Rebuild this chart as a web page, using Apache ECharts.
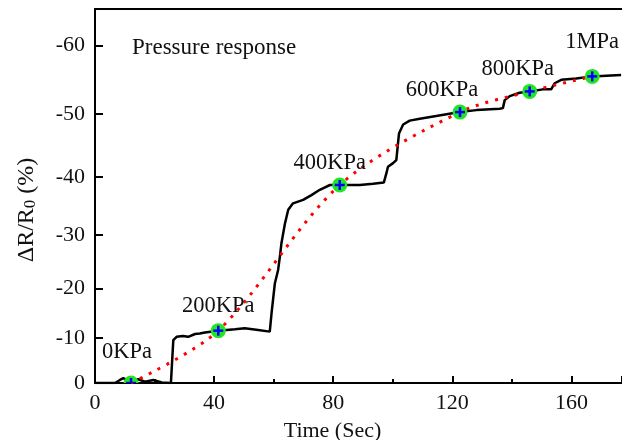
<!DOCTYPE html>
<html>
<head>
<meta charset="utf-8">
<script src="https://cdn.jsdelivr.net/npm/echarts@6/dist/echarts.min.js"></script>
<style>
  html, body { margin: 0; padding: 0; background: #fff; }
  #chart { width: 622px; height: 440px; }
</style>
</head>
<body>
<div id="chart"></div>
<script>
// measured response curve (time in s, dR/R0 in %)
const timeSec = [0, 6.7, 8.4, 9.5, 11.2, 12.5, 14.5, 16.8, 19.6, 22.4, 25.5, 26.3, 27.4, 29.5, 31.3, 33.6, 35.2, 36.9,
  41.4, 47, 50.3, 54.8, 58.7, 59.3, 60.4, 61.5, 62.1, 62.6, 63.8, 64.9, 66.5, 69.9, 72.7, 75.5, 78.9, 82.2, 88.9, 93.4,
  97, 97.9, 98.4, 100.1, 101.2, 102.1, 103.5, 105.7, 109.1, 114.6, 122.5, 128.1, 135.9, 137, 137.6, 139.3, 142.6, 146,
  150.4, 153.2, 154.4, 156.6, 161.6, 167, 171.7, 176.7];
const deltaR = [0, 0, -0.7, -1.1, -0.5, -0.6, -0.85, -0.3, -0.7, -0.1, 0, -9.5, -10.2, -10.4, -10.2, -10.8, -10.9, -11.1,
  -11.5, -11.8, -12, -11.65, -11.3, -15.1, -21, -23.6, -26.1, -28.5, -32.1, -34.5, -35.6, -36.2, -37, -37.9, -38.7, -38.7, -38.7, -38.9,
  -39.1, -40.7, -41.7, -42.3, -42.8, -47, -48.4, -49, -49.3, -49.7, -50.3, -50.6, -50.8, -50.9, -52.1, -52.7, -53.2, -53.4,
  -53.7, -53.7, -54.6, -55.1, -55.3, -55.6, -55.7, -55.8];

// pressure steps
const stepTime = [12.1, 41.4, 82.2, 122.6, 146, 167];
const stepValue = [0, -11.5, -38.7, -50.3, -53.4, -55.6];
const stepLabels = ['0KPa', '200KPa', '400KPa', '600KPa', '800KPa', '1MPa'];

const yTicks = [0, -10, -20, -30, -40, -50, -60];
const yEnd = -65;

// label offsets from each marker, px
const labelShift = [[-4, -31], [0, -25], [-10, -22], [-18, -22], [-12, -22], [0, -34]];

// the original y scale is stretched toward the top
const K = 120;
const fwd = v => Math.exp(-v / K) - 1;
const back = u => Math.round(-K * Math.log(1 + u));

const FONT = 'Liberation Serif';

const curve = timeSec.map((t, i) => [t, fwd(deltaR[i])]);
const steps = stepTime.map((t, i) => [t, fwd(stepValue[i])]);

const chart = echarts.init(document.getElementById('chart'));
chart.setOption({
  animation: false,
  backgroundColor: '#fff',
  title: {
    text: 'Pressure response',
    left: 127, top: 31,
    textStyle: { fontFamily: FONT, fontSize: 23, fontWeight: 'normal', color: '#111' }
  },
  grid: { left: 95, right: 0, top: 9, bottom: 57, outerBoundsMode: 'none' },
  xAxis: [{
    type: 'value', min: 0, max: 177, interval: 40,
    name: 'Time (Sec)', nameLocation: 'middle', nameGap: 37,
    nameTextStyle: { fontFamily: FONT, fontSize: 22, color: '#111', padding: [0, 52, 0, 0] },
    axisLine: { lineStyle: { color: '#000', width: 2 } },
    axisTick: { inside: true, length: 7, lineStyle: { color: '#000', width: 2 } },
    minorTick: { show: true, splitNumber: 2, length: 4, lineStyle: { color: '#000', width: 2 } },
    axisLabel: { fontFamily: FONT, fontSize: 22, color: '#111', margin: 9,
      formatter: v => (v > 176 ? '' : String(v)) },
    splitLine: { show: false }
  }, {
    type: 'value', position: 'top', min: 0, max: 177,
    axisLine: { lineStyle: { color: '#000', width: 2 } },
    axisTick: { show: false }, axisLabel: { show: false }, splitLine: { show: false }
  }],
  yAxis: {
    type: 'value', min: 0, max: fwd(yEnd),
    name: '{a|ΔR/R}{s|0}{a| (%)}', nameLocation: 'middle', nameGap: 56,
    nameTextStyle: {
      padding: [0, 28, 0, 0],
      rich: {
        a: { fontFamily: FONT, fontSize: 24, color: '#111' },
        s: { fontFamily: FONT, fontSize: 17, color: '#111', verticalAlign: 'bottom', padding: [8, 0, 0, 0] }
      }
    },
    axisLine: { show: true, lineStyle: { color: '#000', width: 2 } },
    axisTick: { inside: true, length: 8, customValues: yTicks.map(fwd), lineStyle: { color: '#000', width: 2 } },
    axisLabel: {
      fontFamily: FONT, fontSize: 22, color: '#111', margin: 10,
      customValues: yTicks.map(fwd),
      formatter: u => String(back(u))
    },
    splitLine: { show: false }
  },
  series: [
    {
      type: 'line', data: curve, showSymbol: false, z: 3,
      lineStyle: { color: '#000', width: 2.5 }
    },
    {
      type: 'line', data: steps, showSymbol: false, smooth: 0.3, z: 4,
      lineStyle: { color: '#ff0000', width: 3, type: [3, 7] }
    },
    {
      type: 'custom', data: steps, clip: true, z: 5,
      renderItem: (params, api) => {
        const p = api.coord([api.value(0), api.value(1)]);
        const sh = labelShift[params.dataIndex];
        return {
          type: 'group',
          children: [
            { type: 'circle', shape: { cx: p[0], cy: p[1], r: 7.5 }, style: { fill: '#22e622' } },
            { type: 'line', shape: { x1: p[0] - 5, y1: p[1], x2: p[0] + 5, y2: p[1] }, style: { stroke: '#0000ff', lineWidth: 2.5 } },
            { type: 'line', shape: { x1: p[0], y1: p[1] - 5, x2: p[0], y2: p[1] + 5 }, style: { stroke: '#0000ff', lineWidth: 2.5 } },
            { type: 'text', x: p[0] + sh[0], y: p[1] + sh[1],
              style: { text: stepLabels[params.dataIndex], fontFamily: FONT, fontSize: 22.5, fill: '#111',
                align: 'center', verticalAlign: 'middle' } }
          ]
        };
      }
    }
  ]
});
</script>
</body>
</html>
